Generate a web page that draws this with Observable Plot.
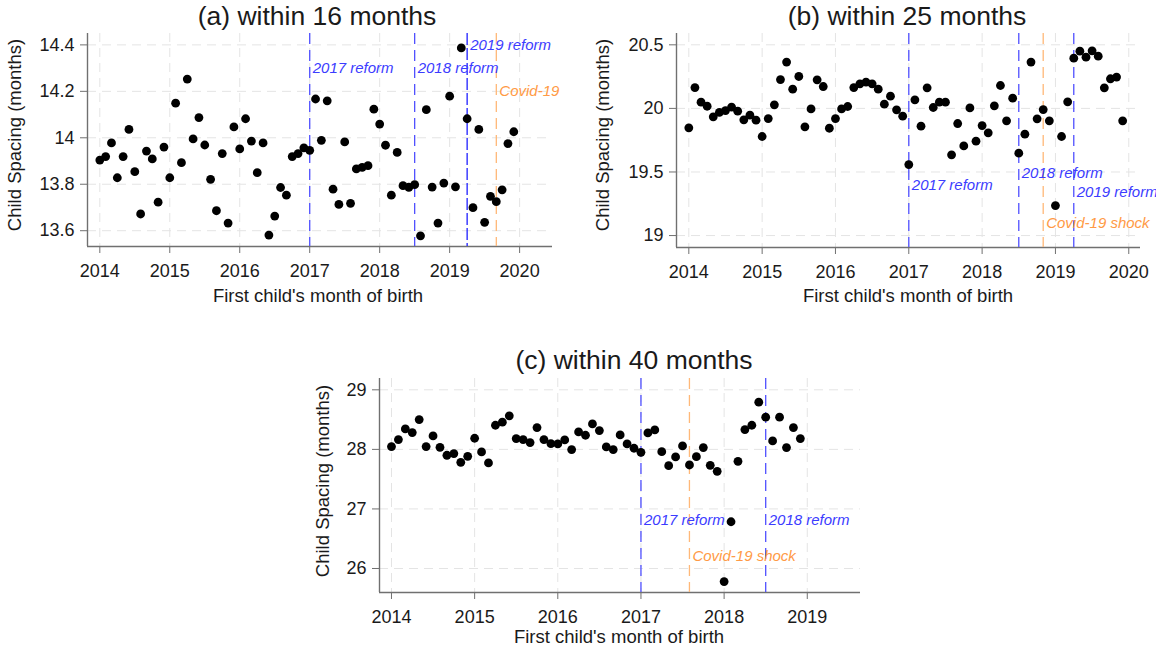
<!DOCTYPE html>
<html>
<head>
<meta charset="utf-8">
<script src="https://cdn.jsdelivr.net/npm/d3@7"></script>
<script src="https://cdn.jsdelivr.net/npm/@observablehq/plot@0.6"></script>
<style>
  html, body { margin: 0; padding: 0; background: #fff; }
  #chart { position: relative; width: 1156px; height: 650px; overflow: hidden; background: #fff;
           font-family: "Liberation Sans", Arial, sans-serif; color: #1a1a1a; }
  .panel { position: absolute; }
  .lbl { position: absolute; white-space: nowrap; transform: translate(-50%, -50%); line-height: 1; }
  .rot { transform: translate(-50%, -50%) rotate(-90deg); }
  #chart svg g[aria-label="x-axis tick"], #chart svg g[aria-label="y-axis tick"] { stroke: #707070; }
  #chart svg g[aria-label="x-axis"] .tick line, #chart svg g[aria-label="y-axis"] .tick line { stroke: #707070; }
</style>
</head>
<body>
<div id="chart"></div>
<script>
// ---------- data ----------
const startYear = 2014;

const spacing16 = [
  13.904, 13.919, 13.978, 13.828, 13.919, 14.036, 13.854, 13.672, 13.943, 13.909, 13.723, 13.960,
  13.828, 14.149, 13.893, 14.253, 13.995, 14.087, 13.969, 13.821, 13.686, 13.932, 13.633, 14.047,
  13.952, 14.082, 13.986, 13.850, 13.978, 13.581, 13.663, 13.786, 13.753, 13.919, 13.932, 13.957,
  13.946, 14.167, 13.989, 14.159, 13.779, 13.713, 13.982, 13.718, 13.866, 13.873, 13.880, 14.123,
  14.059, 13.968, 13.753, 13.937, 13.794, 13.787, 13.798, 13.578, 14.121, 13.788, 13.633, 13.805,
  14.179, 13.789, 14.387, 14.082, 13.699, 14.036, 13.636, 13.748, 13.725, 13.776, 13.975, 14.026
];

const spacing25 = [
  19.847, 20.164, 20.049, 20.017, 19.934, 19.968, 19.983, 20.010, 19.978, 19.910, 19.947, 19.907,
  19.779, 19.920, 20.028, 20.227, 20.364, 20.151, 20.251, 19.855, 19.996, 20.225, 20.172, 19.844,
  19.920, 19.996, 20.015, 20.164, 20.193, 20.206, 20.193, 20.151, 20.033, 20.096, 19.989, 19.939,
  19.558, 20.067, 19.860, 20.162, 20.007, 20.049, 20.049, 19.635, 19.881, 19.705, 20.004, 19.742,
  19.865, 19.808, 20.020, 20.180, 19.902, 20.080, 19.648, 19.797, 20.364, 19.918, 19.991, 19.902,
  19.236, 19.779, 20.052, 20.395, 20.450, 20.403, 20.453, 20.411, 20.162, 20.233, 20.246, 19.902
];

const spacing40 = [
  28.047, 28.164, 28.344, 28.282, 28.501, 28.047, 28.226, 28.035, 27.901, 27.929, 27.783, 27.884,
  28.187, 27.957, 27.772, 28.405, 28.456, 28.563, 28.181, 28.164, 28.114, 28.366, 28.164, 28.097,
  28.091, 28.159, 27.996, 28.293, 28.237, 28.428, 28.316, 28.041, 27.996, 28.243, 28.091, 28.019,
  27.951, 28.277, 28.327, 27.962, 27.727, 27.873, 28.058, 27.738, 27.878, 28.030, 27.732, 27.632,
  25.781, 26.785, 27.800, 28.333, 28.405, 28.792, 28.540, 28.142, 28.540, 28.030, 28.366, 28.181
];

const xTicksAB = [2014, 2015, 2016, 2017, 2018, 2019, 2020];
const xTicksC = [2014, 2015, 2016, 2017, 2018, 2019];
const yTicks16 = [13.6, 13.8, 14, 14.2, 14.4];
const yTicks25 = [19, 19.5, 20, 20.5];
const yTicks40 = [26, 27, 28, 29];

const events16 = [
  {date: 2017.0, label: "2017 reform", kind: "reform"},
  {date: 2018.5, label: "2018 reform", kind: "reform"},
  {date: 2019.25, label: "2019 reform", kind: "reform2"},
  {date: 2019.667, label: "Covid-19", kind: "covid"}
];
const events25 = [
  {date: 2017.0, label: "2017 reform", kind: "reform"},
  {date: 2018.5, label: "2018 reform", kind: "reform"},
  {date: 2019.25, label: "2019 reform", kind: "reform"},
  {date: 2018.833, label: "Covid-19 shock", kind: "covid"}
];
const events40 = [
  {date: 2017.0, label: "2017 reform", kind: "reform"},
  {date: 2018.5, label: "2018 reform", kind: "reform"},
  {date: 2017.583, label: "Covid-19 shock", kind: "covid"}
];

const titles = ["(a) within 16 months", "(b) within 25 months", "(c) within 40 months"];
const yTitle = "Child Spacing (months)";
const xTitle = "First child's month of birth";

// ---------- styles ----------
const kindStyle = {
  reform:  {line: "#5050ff", text: "#3c3cff", dash: "11,6"},
  reform2: {line: "#2020ff", text: "#3c3cff", dash: "12,3"},
  covid:   {line: "#ffb878", text: "#ff9a45", dash: "11,6"}
};

const chart = document.getElementById("chart");

function addLabel(text, x, y, size, rotate) {
  const d = document.createElement("div");
  d.className = "lbl" + (rotate ? " rot" : "");
  d.textContent = text;
  d.style.left = x + "px";
  d.style.top = y + "px";
  d.style.fontSize = size + "px";
  chart.appendChild(d);
}

function makePanel(cfg) {
  const data = cfg.values.map((v, i) => ({date: startYear + i / 12, value: v}));
  const marks = [
    Plot.ruleX(cfg.xTicks, {stroke: "#e4e4e4", strokeDasharray: "9,6", strokeWidth: 1}),
    Plot.ruleY(cfg.yTicks, {stroke: "#e4e4e4", strokeDasharray: "9,6", strokeWidth: 1}),
    Plot.ruleX([cfg.xDomain[0]], {stroke: "#707070", strokeWidth: 1.4}),
    Plot.ruleY([cfg.yDomain[0]], {stroke: "#707070", strokeWidth: 1.4})
  ];
  cfg.events.forEach((e) => {
    const s = kindStyle[e.kind];
    marks.push(Plot.ruleX([e], {x: "date", stroke: s.line, strokeWidth: 1.3, strokeDasharray: s.dash}));
  });
  marks.push(Plot.dot(data, {x: "date", y: "value", r: 4.4, fill: "#000", stroke: "none"}));
  cfg.events.forEach((e, i) => {
    const s = kindStyle[e.kind];
    marks.push(Plot.text([e], {
      x: "date", text: "label", frameAnchor: "top", dy: cfg.labelDy[i], dx: 3,
      textAnchor: "start", fill: s.text, fontStyle: "italic", fontSize: 15
    }));
  });
  const svg = Plot.plot({
    width: cfg.width, height: cfg.height,
    marginLeft: cfg.ml, marginRight: cfg.mr, marginTop: cfg.mt, marginBottom: cfg.mb,
    style: {fontFamily: "'Liberation Sans', Arial, sans-serif", fontSize: "18px", color: "#1a1a1a",
            background: "transparent", overflow: "visible"},
    x: {domain: cfg.xDomain, ticks: cfg.xTicks, tickFormat: d => String(d), tickSize: 7, tickPadding: 11, label: null},
    y: {domain: cfg.yDomain, ticks: cfg.yTicks, tickFormat: d => String(d), tickSize: 7, tickPadding: 6, label: null},
    marks
  });
  const wrap = document.createElement("div");
  wrap.className = "panel";
  wrap.style.left = cfg.left + "px";
  wrap.style.top = cfg.top + "px";
  wrap.appendChild(svg);
  chart.appendChild(wrap);
}

makePanel({
  values: spacing16, events: events16, labelDy: [29, 29, 6, 52],
  xTicks: xTicksAB, yTicks: yTicks16, xDomain: [2013.824, 2020.47], yDomain: [13.532, 14.449],
  left: 0, top: 0, width: 560, height: 310, ml: 87, mr: 8, mt: 33, mb: 64
});
makePanel({
  values: spacing25, events: events25, labelDy: [146, 134, 153, 184],
  xTicks: xTicksAB, yTicks: yTicks25, xDomain: [2013.832, 2020.16], yDomain: [18.906, 20.589],
  left: 590, top: 0, width: 566, height: 310, ml: 86, mr: 16, mt: 33, mb: 63
});
makePanel({
  values: spacing40, events: events40, labelDy: [136, 136, 172],
  xTicks: xTicksC, yTicks: yTicks40, xDomain: [2013.856, 2019.64], yDomain: [25.597, 29.19],
  left: 290, top: 345, width: 600, height: 305, ml: 89, mr: 30, mt: 33, mb: 58
});

addLabel(titles[0], 317, 16, 26.5);
addLabel(titles[1], 907, 16, 26.5);
addLabel(titles[2], 634, 360, 26.5);
addLabel(xTitle, 318, 296, 18.5);
addLabel(xTitle, 908, 296, 18.5);
addLabel(xTitle, 619, 637, 18.5);
addLabel(yTitle, 15, 135, 18.5, true);
addLabel(yTitle, 603, 135, 18.5, true);
addLabel(yTitle, 323, 481, 18.5, true);
</script>
</body>
</html>
